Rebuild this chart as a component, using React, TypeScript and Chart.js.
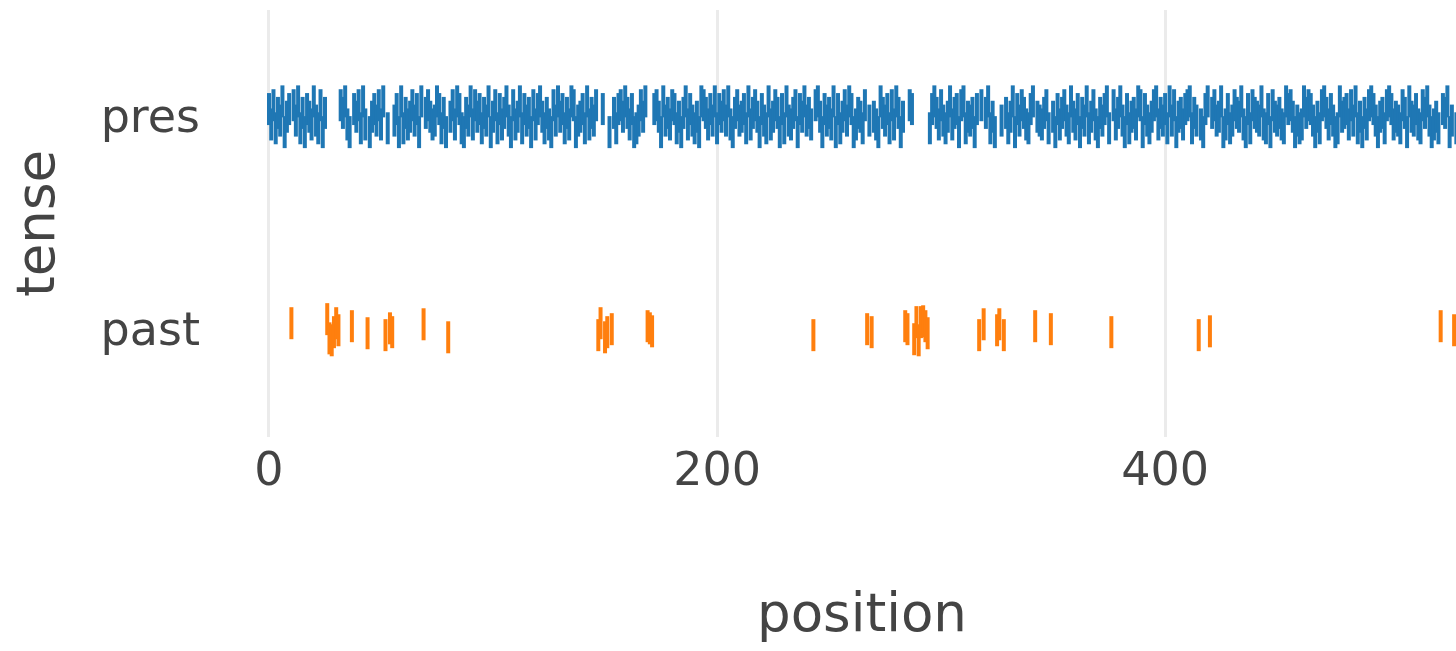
import React, { useEffect, useRef } from "react";
import { Chart, registerables } from "chart.js";

Chart.register(...registerables);

// ---- data ----
const CATEGORIES = ["past", "pres"]; // y categories (0 = past, 1 = pres)
const X_TICKS = [0, 200, 400];

const PAST_POSITIONS = [
  10, 26, 27, 28, 29, 30, 31, 37, 44, 52, 54, 55, 69, 80,
  147, 148, 150, 151, 153, 169, 170, 171,
  243, 267, 269, 284, 285, 288, 289, 290, 291, 292, 293, 294,
  317, 319, 325, 326, 328, 342, 349, 376, 415, 420, 523, 529,
];
// vertical jitter of each past mark (category units)
const PAST_OFFSETS = [
  0.033, 0.052, -0.038, -0.047, -0.009, 0.033, 0, 0.019, -0.014, -0.023, 0.009, -0.009, 0.028, -0.033,
  -0.023, 0.033, -0.033, -0.009, 0.005, 0.019, 0.009, -0.005,
  -0.023, 0.005, -0.009, 0.019, 0.005, -0.042, 0.038, -0.047, 0.038, 0.042, 0.019, -0.014,
  -0.023, 0.028, 0, 0.028, -0.023, 0.019, 0.005, -0.009, -0.023, -0.005, 0.019, 0,
];

// pres occupies every position up to this one that is not a past position
const PRES_LAST_POSITION = 540;
// jitter level (0..8, 4 = centre) of the pres mark at each position, 50 per row
const PRES_OFFSET_LEVELS = [
  "62715380462738150642831705284613758203647182504637",
  "28514736081524736081574238615034728610538274615380",
  "47162583072481635072684152073846152870346182537406",
  "83025167485260137485216740835276140582631408752638",
  "16473820573461825740631824750618325706483521784063",
  "52806147386025417836420853617285043276185073416852",
  "73148256078143506273581407236514806375216804325718",
  "40625731842605381472053681472583061452870631478253",
  "61837045267815342068157348026137548206175438216074",
  "35218674031285763041785263018456273814052786304517",
  "86243175084362175830241765803216847306521",
];
const PRES_LEVEL_STEP = 0.018;

const FONT = "'DejaVu Sans', Verdana, sans-serif";
const TEXT = "#444444";

export default function App() {
  const ref = useRef<HTMLCanvasElement>(null);

  useEffect(() => {
    const pastSet = new Set(PAST_POSITIONS);
    const levels = PRES_OFFSET_LEVELS.join("");
    const presData: { x: number; y: number }[] = [];
    for (let p = 0; p <= PRES_LAST_POSITION; p++) {
      if (pastSet.has(p)) continue;
      presData.push({ x: p, y: 1 + (Number(levels[p]) - 4) * PRES_LEVEL_STEP });
    }
    const pastData = PAST_POSITIONS.map((p, i) => ({ x: p, y: 0 + PAST_OFFSETS[i] }));

    const markStyle = {
      pointStyle: "line" as const,
      pointRotation: 90,
      pointRadius: 16,
      pointHoverRadius: 16,
      pointBorderWidth: 4,
      pointHoverBorderWidth: 4,
    };

    const chart = new Chart(ref.current!, {
      type: "scatter",
      data: {
        datasets: [
          {
            label: "pres",
            data: presData,
            ...markStyle,
            pointBorderColor: "#1f77b4",
            pointBackgroundColor: "#1f77b4",
            borderColor: "#1f77b4",
            backgroundColor: "#1f77b4",
          },
          {
            label: "past",
            data: pastData,
            ...markStyle,
            pointBorderColor: "#ff7f0e",
            pointBackgroundColor: "#ff7f0e",
            borderColor: "#ff7f0e",
            backgroundColor: "#ff7f0e",
          },
        ],
      },
      options: {
        responsive: false,
        animation: false,
        events: [],
        layout: { autoPadding: false, padding: { top: 10, right: 19, left: 0, bottom: 0 } },
        plugins: {
          legend: { display: false },
          tooltip: { enabled: false },
        },
        scales: {
          x: {
            type: "linear",
            min: -11.6,
            max: 541,
            afterBuildTicks: (s: any) => {
              s.ticks = X_TICKS.map((v) => ({ value: v }));
            },
            afterFit: (s: any) => {
              s.height = 214;
              s.paddingLeft = 0;
              s.paddingRight = 0;
            },
            grid: { color: "#ebebeb", lineWidth: 3, drawTicks: false },
            border: { display: false },
            ticks: {
              padding: 8,
              autoSkip: false,
              maxRotation: 0,
              color: TEXT,
              font: { family: FONT, size: 46 },
            },
            title: {
              display: true,
              text: "position",
              color: TEXT,
              font: { family: FONT, size: 53 },
              padding: { top: 0, bottom: 2 },
            },
          },
          y: {
            type: "linear",
            min: -0.5,
            max: 1.5,
            afterBuildTicks: (s: any) => {
              s.ticks = CATEGORIES.map((_, i) => ({ value: i }));
            },
            afterFit: (s: any) => {
              s.width = 243;
              s.paddingTop = 0;
              s.paddingBottom = 0;
            },
            grid: { display: false, drawTicks: false },
            border: { display: false },
            ticks: {
              padding: 43,
              labelOffset: 3,
              color: TEXT,
              font: { family: FONT, size: 46 },
              callback: (v: any) => CATEGORIES[Number(v)] ?? "",
            },
            title: {
              display: true,
              text: "tense",
              color: TEXT,
              font: { family: FONT, size: 53 },
              padding: { top: 8, bottom: 0 },
            },
          },
        },
      },
    });
    return () => chart.destroy();
  }, []);

  return (
    <div
      style={{
        position: "fixed",
        left: 0,
        top: 0,
        width: 1456,
        height: 651,
        overflow: "hidden",
        background: "#ffffff",
      }}
    >
      <canvas ref={ref} width={1500} height={651} style={{ display: "block" }} />
    </div>
  );
}
